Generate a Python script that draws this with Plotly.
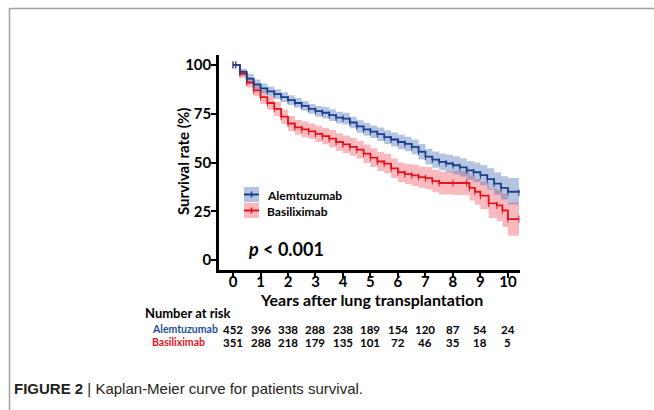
import plotly.graph_objects as go

# ---- data ----
t_alem = [0, 0.1, 0.25, 0.5, 0.75, 1, 1.25, 1.5, 1.75, 2, 2.25, 2.5, 2.75, 3, 3.25, 3.5, 3.75, 4,
          4.25, 4.5, 4.75, 5, 5.25, 5.5, 5.75, 6, 6.25, 6.5, 6.75, 7, 7.25, 7.5, 7.75, 8, 8.25,
          8.5, 8.75, 9, 9.25, 9.5, 9.75, 10, 10.4]
s_alem = [100, 100, 96.5, 93, 90, 88, 86.5, 85, 83.5, 82, 80.5, 79, 77.5, 76.3, 75.5, 74.3, 73, 72.5,
          70.5, 68.5, 67, 65.8, 64.5, 63, 61.8, 60.5, 59.5, 58, 55.5, 53, 51.5, 50.3, 49.5, 48.6, 47.5,
          46, 45, 43.5, 41.5, 39.2, 37, 35, 34.5]
lo_alem = [100, 100, 94.5, 90.5, 87.5, 85.5, 84, 82.5, 81, 79.5, 78, 76.5, 75, 73.5, 72.5, 71.3, 70, 69.5,
           67.5, 65.3, 63.7, 62.5, 61, 59.5, 58.2, 56.8, 55.8, 54.2, 51.5, 49, 47.3, 46, 45, 44, 42.8,
           41.2, 40, 38.3, 36, 33.5, 31, 28.5, 28]
hi_alem = [100, 100, 98, 95.5, 92.5, 90.5, 89, 87.5, 86, 84.5, 83, 81.5, 80, 79, 78.5, 77.3, 76, 75.5,
           73.5, 71.7, 70.3, 69, 68, 66.5, 65.4, 64.2, 63.2, 61.8, 59.5, 57, 55.7, 54.6, 54, 53.2, 52.2,
           50.8, 50, 48.7, 47, 45, 43, 42, 42.5]

t_basi = [0, 0.1, 0.25, 0.5, 0.75, 1, 1.25, 1.5, 1.75, 2, 2.25, 2.5, 2.75, 3, 3.25, 3.5, 3.75, 4,
          4.25, 4.5, 4.75, 5, 5.25, 5.5, 5.75, 6, 6.25, 6.5, 6.75, 7, 7.25, 7.5, 8, 8.5, 8.6, 8.8,
          9, 9.3, 9.6, 9.8, 10, 10.4]
s_basi = [100, 100, 95.5, 91, 87, 83.5, 80.5, 77.5, 73.5, 70, 68, 67, 66, 64.7, 63.5, 62.2, 60.5, 59.3,
          58, 56.6, 54.5, 52.5, 50.5, 49.4, 47, 45, 44, 43.4, 42.5, 42, 40.5, 39.5, 39.5, 39.5, 37, 35,
          33, 29, 28, 25.5, 21, 21]
lo_basi = [100, 100, 93.5, 88.5, 84, 80, 77, 73.8, 69.8, 66.2, 64.2, 63, 62, 60.5, 59.3, 57.8, 56, 54.8,
           53.4, 52, 49.8, 47.7, 45.6, 44.4, 42, 40, 38.8, 38, 37, 36.3, 34.8, 33.6, 33.4, 33.2, 30.5, 28.4,
           26, 21.5, 20, 17, 12.5, 12.5]
hi_basi = [100, 100, 97.5, 93.5, 90, 87, 84, 81.2, 77.2, 73.8, 71.8, 71, 70, 68.9, 67.7, 66.6, 65, 63.8,
           62.6, 61.2, 59.2, 57.3, 55.4, 54.4, 52, 50, 49.2, 48.8, 48, 47.7, 46.2, 45.4, 45.6, 45.8, 43.5, 41.6,
           40, 36.5, 36, 34, 29.5, 29.5]

risk_years = [0, 1, 2, 3, 4, 5, 6, 7, 8, 9, 10]
risk_alem = [452, 396, 338, 288, 238, 189, 154, 120, 87, 54, 24]
risk_basi = [351, 288, 218, 179, 135, 101, 72, 46, 35, 18, 5]

x_ticks = [0, 1, 2, 3, 4, 5, 6, 7, 8, 9, 10]
y_ticks = [0, 25, 50, 75, 100]

BLUE = "#1b3f8b"
RED = "#e3141b"
BLUE_BAND = "rgba(70,110,180,0.40)"
RED_BAND = "rgba(240,80,95,0.40)"
FONT = "Lato, Open Sans, sans-serif"

fig = go.Figure()

def band(t, lo, hi, color):
    fig.add_trace(go.Scatter(x=t, y=hi, mode="lines", line=dict(width=0, shape="hv"),
                             showlegend=False, hoverinfo="skip"))
    fig.add_trace(go.Scatter(x=t, y=lo, mode="lines", line=dict(width=0, shape="hv"),
                             fill="tonexty", fillcolor=color, showlegend=False, hoverinfo="skip"))

band(t_basi, lo_basi, hi_basi, RED_BAND)
band(t_alem, lo_alem, hi_alem, BLUE_BAND)

fig.add_trace(go.Scatter(x=t_basi, y=s_basi, mode="lines+markers", name="Basiliximab",
                         line=dict(color=RED, width=1.8, shape="hv"),
                         marker=dict(symbol="line-ns-open", size=5, line=dict(color=RED, width=1)),
                         showlegend=False))
fig.add_trace(go.Scatter(x=t_alem, y=s_alem, mode="lines+markers", name="Alemtuzumab",
                         line=dict(color=BLUE, width=1.8, shape="hv"),
                         marker=dict(symbol="line-ns-open", size=5, line=dict(color=BLUE, width=1)),
                         showlegend=False))

W, H = 654, 410
def px_x(p): return p / W
def px_y(p): return 1 - p / H

fig.update_layout(
    width=W, height=H, margin=dict(l=0, r=0, t=0, b=0),
    paper_bgcolor="white", plot_bgcolor="white",
    font=dict(family=FONT, color="black"),
    xaxis=dict(domain=[px_x(219), px_x(520)], range=[-0.51, 10.44], tickvals=x_ticks,
               showgrid=False, zeroline=False, showline=True, linecolor="black", linewidth=2.5,
               ticks="outside", ticklen=5, tickwidth=2, tickcolor="black", ticklabelstandoff=-9,
               automargin=False,
               tickfont=dict(size=15, family=FONT, weight="bold", color="black")),
    yaxis=dict(domain=[px_y(270), px_y(55)], range=[-5.1, 105.1], tickvals=y_ticks,
               showgrid=False, zeroline=False, showline=True, linecolor="black", linewidth=2.5,
               ticks="outside", ticklen=5, tickwidth=2, tickcolor="black", ticklabelstandoff=-3,
               automargin=False,
               tickfont=dict(size=15, family=FONT, weight="bold", color="black")),
    showlegend=False,
)

def note(text, x, y, size, color="black", xanchor="center", angle=0, family=FONT, xref="paper"):
    return dict(text=text, x=x, y=px_y(y), xref=xref, yref="paper", xanchor=xanchor,
                yanchor="middle", textangle=angle, showarrow=False,
                font=dict(size=size, family=family, color=color))

ann = []
ann.append(note("<b>Years after lung transplantation</b>", px_x(371), 299, 16))
ann.append(note("<b>Survival rate (%)</b>", px_x(183), 162, 15, angle=-90))
ann.append(note("<b><i>p</i> &lt; 0.001</b>", px_x(246), 249, 18, xanchor="left"))
ann.append(note("<b>Number at risk</b>", px_x(143), 313, 13, xanchor="left"))
ann.append(note("<b>Alemtuzumab</b>", px_x(150), 329, 10.5, color="#1f4e9a", xanchor="left"))
ann.append(note("<b>Basiliximab</b>", px_x(150), 342, 10.5, color=RED, xanchor="left"))
for yr, a, b in zip(risk_years, risk_alem, risk_basi):
    ann.append(note(f"<b>{a}</b>", yr, 329, 11.5, xref="x"))
    ann.append(note(f"<b>{b}</b>", yr, 342, 11.5, xref="x"))
# legend text
ann.append(note("<b>Alemtuzumab</b>", px_x(265), 195, 12, xanchor="left"))
ann.append(note("<b>Basiliximab</b>", px_x(265), 211, 12, xanchor="left"))
# caption
ann.append(note("<b>FIGURE 2</b> | Kaplan-Meier curve for patients survival.", px_x(12), 388, 15,
                color="#231f20", xanchor="left", family="Liberation Sans, Arial"))
fig.update_layout(annotations=ann)

shapes = []
# legend swatches
for (y0, y1, bc, lc) in [(187, 202, BLUE_BAND, BLUE), (203, 218, RED_BAND, RED)]:
    shapes.append(dict(type="rect", xref="paper", yref="paper", x0=px_x(244), x1=px_x(259),
                       y0=px_y(y1), y1=px_y(y0), fillcolor=bc, line=dict(width=0)))
    ym = (y0 + y1) / 2
    shapes.append(dict(type="line", xref="paper", yref="paper", x0=px_x(244), x1=px_x(259),
                       y0=px_y(ym), y1=px_y(ym), line=dict(color=lc, width=2)))
    shapes.append(dict(type="line", xref="paper", yref="paper", x0=px_x(251.5), x1=px_x(251.5),
                       y0=px_y(ym - 3), y1=px_y(ym + 3), line=dict(color=lc, width=1.5)))
# page border lines
shapes.append(dict(type="line", xref="paper", yref="paper", x0=px_x(9), x1=1, y0=px_y(8.5), y1=px_y(8.5),
                   line=dict(color="#a0a0a0", width=1.5)))
shapes.append(dict(type="line", xref="paper", yref="paper", x0=px_x(9.5), x1=px_x(9.5), y0=px_y(8), y1=0,
                   line=dict(color="#a0a0a0", width=1.5)))
fig.update_layout(shapes=shapes)

fig.write_html("out.html", config={"displayModeBar": False},
               post_script="document.body.style.margin='0px';")
